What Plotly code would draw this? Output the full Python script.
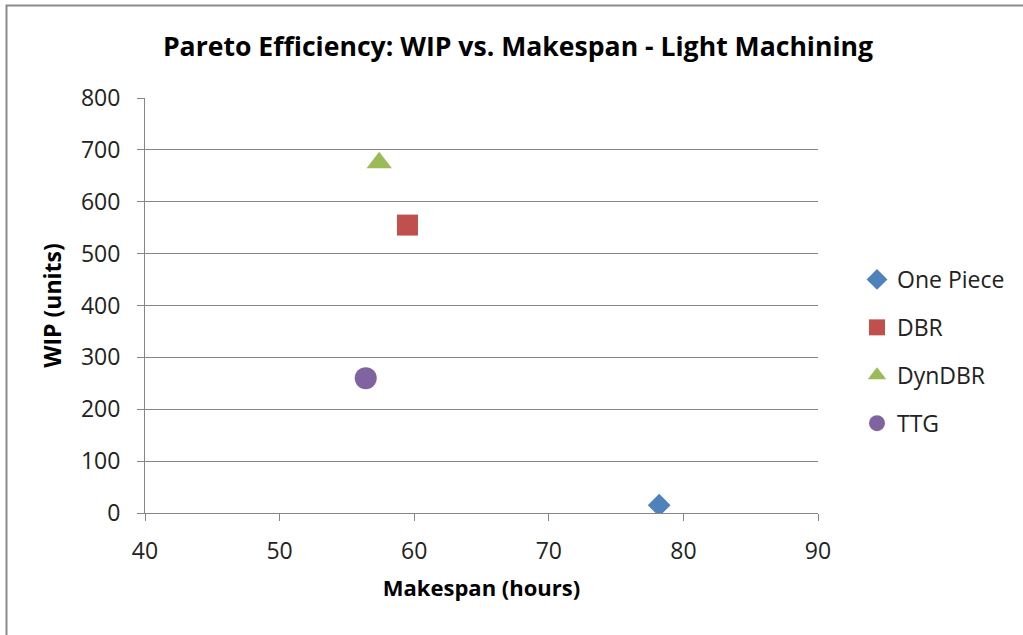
import plotly.graph_objects as go

# Scheduling policies compared on makespan vs. work-in-process
policies = ["One Piece", "DBR", "DynDBR", "TTG"]
makespan_hours = [78.2, 59.5, 57.4, 56.4]
wip_units = [15, 555, 675, 260]

symbols = ["diamond", "square", "triangle-up", "circle"]
colors = ["#4F81BD", "#C0504D", "#9BBB59", "#8064A2"]
sizes = [17.5, 21, 22, 22]

x_ticks = [40, 50, 60, 70, 80, 90]
y_ticks = [0, 100, 200, 300, 400, 500, 600, 700, 800]

FONT = "Open Sans"
GRID = "#868686"

fig = go.Figure()
for name, x, y, sym, col, sz in zip(policies, makespan_hours, wip_units, symbols, colors, sizes):
    fig.add_trace(go.Scatter(
        x=[x], y=[y], mode="markers", name=name, legendgroup=name,
        marker=dict(symbol=sym, color=col, size=sz, line=dict(width=0)),
    ))

L, R, T, B = 145, 205, 98, 122
W, H = 1023, 635
pw, ph = W - L - R, H - T - B

fig.update_layout(
    width=W, height=H,
    margin=dict(l=L, r=R, t=T, b=B),
    paper_bgcolor="white", plot_bgcolor="white",
    font=dict(family=FONT, color="#000000"),
    title=dict(
        text="<b>Pareto Efficiency: WIP vs. Makespan - Light Machining</b>",
        font=dict(family=FONT, size=26.6, color="#000000"),
        xref="container", x=518 / W, xanchor="center",
        yref="container", y=1 - 47 / H, yanchor="middle",
    ),
    xaxis=dict(
        range=[40, 90], tickvals=x_ticks, showgrid=False, zeroline=False,
        showline=True, linecolor=GRID, linewidth=1,
        ticks="outside", ticklen=7, tickcolor=GRID,
        tickfont=dict(family=FONT, size=23, color="#222222"), ticklabelstandoff=10,
        title=dict(text="<b>Makespan (hours)</b>", font=dict(family=FONT, size=22), standoff=16),
    ),
    yaxis=dict(
        range=[0, 800], tickvals=y_ticks, showgrid=True, gridcolor=GRID, gridwidth=1,
        zeroline=False, showline=True, linecolor=GRID, linewidth=1,
        ticks="outside", ticklen=7, tickcolor=GRID,
        tickfont=dict(family=FONT, size=23, color="#222222"), ticklabelstandoff=12,
        title=dict(text="<b>WIP (units)</b>", font=dict(family=FONT, size=23), standoff=12),
    ),
    legend=dict(
        x=(857 - L) / pw, xanchor="left", y=(H - B - 258) / ph, yanchor="top",
        font=dict(family=FONT, size=23, color="#222222"), traceorder="grouped", tracegroupgap=15,
        itemwidth=30, bgcolor="rgba(0,0,0,0)",
    ),
    showlegend=True,
)

# outer chart border
fig.add_shape(
    type="rect", xref="paper", yref="paper",
    x0=(6.5 - L) / pw, x1=(W + 20 - L) / pw,
    y0=-(B + 20) / ph, y1=(H - B - 5.5) / ph,
    line=dict(color="#8a8a8a", width=2), fillcolor="rgba(0,0,0,0)", layer="below",
)

fig.write_html("out.html")
